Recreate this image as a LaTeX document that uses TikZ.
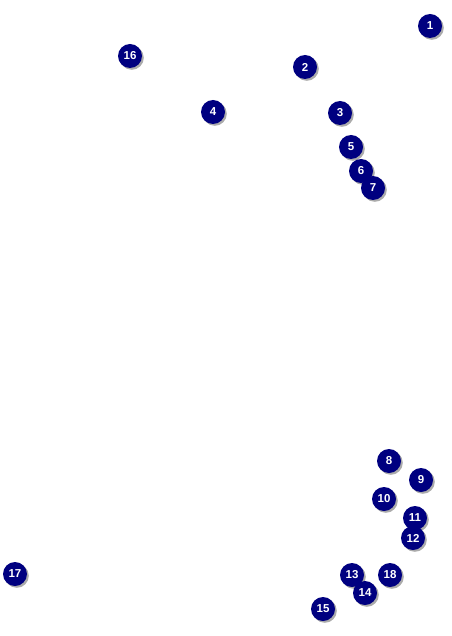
\documentclass[tikz,border=0pt]{standalone}
\usepackage{fontspec}
\setmainfont{Liberation Sans}
\usepackage{xcolor}
\usepackage{tikz}
\usetikzlibrary{shadows}
\definecolor{markernavy}{RGB}{0, 0, 128}
\definecolor{shadowgray}{RGB}{150, 150, 150}

\tikzset{
    marker/.style={circle, fill=markernavy, text=white, inner sep=0pt,
        minimum size=24pt, font=\fontsize{11.5}{11.5}\selectfont\bfseries,
        drop shadow={shadow xshift=1.8pt, shadow yshift=-1.8pt, fill=shadowgray, opacity=0.8}}
}

\begin{document}
\begin{tikzpicture}[x=1pt, y=-1pt]
\useasboundingbox (0,0) rectangle (451,636);

% upper group
\node[marker] (m1) at (430,26) {1};
\node[marker] (m16) at (130,56) {16};
\node[marker] (m2) at (305,67) {2};
\node[marker] (m4) at (213,112) {4};
\node[marker] (m3) at (340,113) {3};
\node[marker] (m5) at (351,147) {5};
\node[marker] (m6) at (361,171) {6};
\node[marker] (m7) at (373,188) {7};

% lower right group
\node[marker] (m8) at (389,461) {8};
\node[marker] (m9) at (421,480) {9};
\node[marker] (m10) at (384,499) {10};
\node[marker] (m11) at (415,518) {11};
\node[marker] (m12) at (413,538) {12};
\node[marker] (m13) at (352,575) {13};
\node[marker] (m18) at (390,575) {18};
\node[marker] (m14) at (365,593) {14};
\node[marker] (m15) at (323,609) {15};

% lone marker on the left
\node[marker] (m17) at (15,574) {17};
\end{tikzpicture}
\end{document}
